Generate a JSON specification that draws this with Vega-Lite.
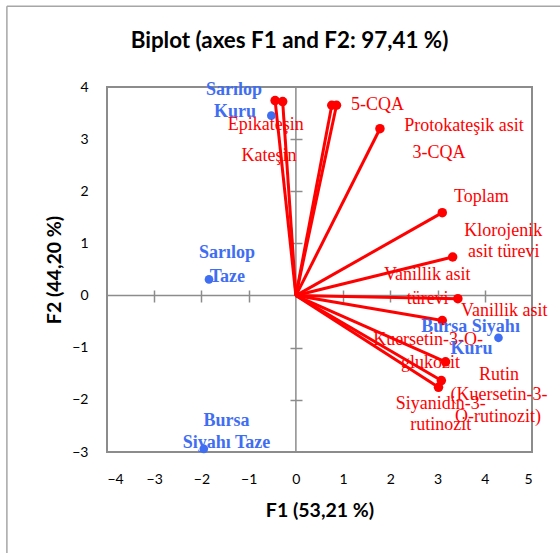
{
  "$schema": "https://vega.github.io/schema/vega-lite/v6.json",
  "width": 425,
  "height": 365,
  "autosize": {"type": "none"},
  "padding": {"left": 107, "top": 87, "right": 28, "bottom": 101},
  "background": "white",
  "config": {"view": {"stroke": "#8c8c8c", "strokeWidth": 2}},
  "title": {
    "text": "Biplot (axes F1 and F2: 97,41 %)",
    "font": "Lato", "fontSize": 22.4, "fontWeight": "bold", "color": "black",
    "anchor": "middle", "frame": "group", "dx": -30, "offset": -65, "baseline": "alphabetic"
  },
  "datasets": {
    "vars": [
      {"name": "Epikateşin", "x": -0.44, "y": 3.74, "o": 0},
      {"name": "Kateşin", "x": -0.28, "y": 3.72, "o": 0},
      {"name": "5-CQA", "x": 0.76, "y": 3.65, "o": 0},
      {"name": "3-CQA", "x": 0.86, "y": 3.65, "o": 0},
      {"name": "Protokateşik asit", "x": 1.78, "y": 3.2, "o": 0},
      {"name": "Toplam", "x": 3.1, "y": 1.59, "o": 0},
      {"name": "Klorojenik asit türevi", "x": 3.32, "y": 0.74, "o": 0},
      {"name": "Vanillik asit", "x": 3.43, "y": -0.06, "o": 0},
      {"name": "Vanillik asit türevi", "x": 3.1, "y": -0.48, "o": 0},
      {"name": "Kuersetin-3-O-glukozit", "x": 3.17, "y": -1.27, "o": 0},
      {"name": "Rutin (Kuersetin-3-O-rutinozit)", "x": 3.08, "y": -1.63, "o": 0},
      {"name": "Siyanidin-3-rutinozit", "x": 3.02, "y": -1.76, "o": 0}
    ],
    "obs": [
      {"name": "Sarılop Kuru", "x": -0.52, "y": 3.45},
      {"name": "Sarılop Taze", "x": -1.84, "y": 0.31},
      {"name": "Bursa Siyahı Taze", "x": -1.95, "y": -2.94},
      {"name": "Bursa Siyahı Kuru", "x": 4.29, "y": -0.81}
    ],
    "zerolines": [
      {"x": -4, "x2": 5, "y": 0, "y2": 0, "kind": "h"},
      {"x": 0, "x2": 0, "y": -3, "y2": 4, "kind": "v"}
    ],
    "frame": [
      {"x": -6.12, "x2": -6.12, "y": 5.55, "y2": -5.3},
      {"x": -6.12, "x2": 6.2, "y": 5.55, "y2": 5.55}
    ],
    "labels": [
      {"text": "5-CQA", "x": 1.73, "y": 3.65, "kind": "var"},
      {"text": "Epikateşin", "x": -0.64, "y": 3.28, "kind": "var"},
      {"text": "Kateşin", "x": -0.57, "y": 2.67, "kind": "var"},
      {"text": "Protokateşik asit", "x": 3.56, "y": 3.26, "kind": "var"},
      {"text": "3-CQA", "x": 3.03, "y": 2.73, "kind": "var"},
      {"text": "Toplam", "x": 3.93, "y": 1.89, "kind": "var"},
      {"text": "Klorojenik", "x": 4.39, "y": 1.23, "kind": "var"},
      {"text": "asit türevi", "x": 4.4, "y": 0.83, "kind": "var"},
      {"text": "Vanillik asit", "x": 2.78, "y": 0.4, "kind": "var"},
      {"text": "türevi", "x": 2.79, "y": -0.06, "kind": "var"},
      {"text": "Vanillik asit", "x": 4.41, "y": -0.3, "kind": "var"},
      {"text": "Kuersetin-3-O-", "x": 2.8, "y": -0.86, "kind": "var"},
      {"text": "glukozit", "x": 2.85, "y": -1.29, "kind": "var"},
      {"text": "Rutin", "x": 4.3, "y": -1.52, "kind": "var"},
      {"text": "(Kuersetin-3-", "x": 4.3, "y": -1.91, "kind": "var"},
      {"text": "O-rutinozit)", "x": 4.28, "y": -2.32, "kind": "var"},
      {"text": "Siyanidin-3-", "x": 3.07, "y": -2.08, "kind": "var"},
      {"text": "rutinozit", "x": 3.07, "y": -2.49, "kind": "var"},
      {"text": "Sarılop", "x": -1.31, "y": 3.95, "kind": "obs"},
      {"text": "Kuru", "x": -1.29, "y": 3.53, "kind": "obs"},
      {"text": "Sarılop", "x": -1.46, "y": 0.81, "kind": "obs"},
      {"text": "Taze", "x": -1.45, "y": 0.36, "kind": "obs"},
      {"text": "Bursa", "x": -1.47, "y": -2.41, "kind": "obs"},
      {"text": "Siyahı Taze", "x": -1.47, "y": -2.82, "kind": "obs"},
      {"text": "Bursa Siyahı", "x": 3.7, "y": -0.61, "kind": "obs"},
      {"text": "Kuru", "x": 3.72, "y": -1.02, "kind": "obs"}
    ]
  },
  "resolve": {"axis": {"x": "independent", "y": "independent"}},
  "layer": [
    {
      "data": {"name": "frame"},
      "mark": {"type": "rule", "color": "#a6a6a6", "strokeWidth": 1.5},
      "encoding": {
        "x": {"field": "x", "type": "quantitative", "scale": {"domain": [-4, 5], "nice": false, "zero": false}, "axis": null},
        "x2": {"field": "x2"},
        "y": {"field": "y", "type": "quantitative", "scale": {"domain": [-3, 4], "nice": false, "zero": false}, "axis": null},
        "y2": {"field": "y2"}
      }
    },
    {
      "data": {"name": "zerolines"},
      "transform": [{"filter": "datum.kind === 'h'"}],
      "mark": {"type": "rule", "color": "#8c8c8c", "strokeWidth": 1.5},
      "encoding": {
        "x": {"field": "x", "type": "quantitative",
          "axis": {"orient": "bottom", "offset": -162, "domain": false, "labels": false, "ticks": true, "tickSize": 12, "tickWidth": 1.5, "tickColor": "#8c8c8c", "values": [-3, -2, -1, 1, 2, 3, 4], "grid": false, "title": null}},
        "x2": {"field": "x2"},
        "y": {"field": "y", "type": "quantitative", "axis": null},
        "y2": {"field": "y2"}
      }
    },
    {
      "data": {"name": "zerolines"},
      "transform": [{"filter": "datum.kind === 'v'"}],
      "mark": {"type": "rule", "color": "#8c8c8c", "strokeWidth": 1.5},
      "encoding": {
        "y": {"field": "y", "type": "quantitative",
          "axis": {"orient": "left", "offset": -195, "domain": false, "labels": false, "ticks": true, "tickSize": 12, "tickWidth": 1.5, "tickColor": "#8c8c8c", "values": [-2, -1, 1, 2, 3], "grid": false, "title": null}},
        "y2": {"field": "y2"},
        "x": {"field": "x", "type": "quantitative", "axis": null},
        "x2": {"field": "x2"}
      }
    },
    {
      "data": {"name": "vars"},
      "mark": {"type": "rule", "color": "#ff0000", "strokeWidth": 3},
      "encoding": {
        "x": {"field": "x", "type": "quantitative", "axis": null},
        "y": {"field": "y", "type": "quantitative", "axis": null},
        "x2": {"field": "o"},
        "y2": {"field": "o"}
      }
    },
    {
      "data": {"name": "vars"},
      "mark": {"type": "point", "filled": true, "color": "#ff0000", "opacity": 1, "size": 90},
      "encoding": {
        "x": {"field": "x", "type": "quantitative", "axis": null},
        "y": {"field": "y", "type": "quantitative", "axis": null}
      }
    },
    {
      "data": {"name": "obs"},
      "mark": {"type": "point", "filled": true, "color": "#3f6ef2", "opacity": 1, "size": 75},
      "encoding": {
        "x": {"field": "x", "type": "quantitative",
          "axis": {"orient": "bottom", "domain": false, "ticks": false, "tickSize": 0, "grid": false, "values": [-4, -3, -2, -1, 0, 1, 2, 3, 4, 5], "labelFont": "Lato", "labelFontSize": 14, "labelColor": "black", "labelPadding": 20, "title": "F1 (53,21 %)", "titleFont": "Lato", "titleFontSize": 19.5, "titleFontWeight": "bold", "titleColor": "black", "titlePadding": 15}},
        "y": {"field": "y", "type": "quantitative",
          "axis": {"orient": "left", "domain": false, "ticks": false, "tickSize": 0, "grid": false, "values": [-3, -2, -1, 0, 1, 2, 3, 4], "labelFont": "Lato", "labelFontSize": 14, "labelColor": "black", "labelPadding": 19, "title": "F2 (44,20 %)", "titleFont": "Lato", "titleFontSize": 19.5, "titleFontWeight": "bold", "titleColor": "black", "titlePadding": 7}}
      }
    },
    {
      "data": {"name": "labels"},
      "transform": [{"filter": "datum.kind === 'var'"}],
      "mark": {"type": "text", "font": "Liberation Serif", "fontSize": 18, "color": "#ff0000", "align": "center", "baseline": "middle"},
      "encoding": {
        "x": {"field": "x", "type": "quantitative", "axis": null},
        "y": {"field": "y", "type": "quantitative", "axis": null},
        "text": {"field": "text"}
      }
    },
    {
      "data": {"name": "labels"},
      "transform": [{"filter": "datum.kind === 'obs'"}],
      "mark": {"type": "text", "font": "Liberation Serif", "fontSize": 18, "fontWeight": "bold", "color": "#3f6ef2", "align": "center", "baseline": "middle"},
      "encoding": {
        "x": {"field": "x", "type": "quantitative", "axis": null},
        "y": {"field": "y", "type": "quantitative", "axis": null},
        "text": {"field": "text"}
      }
    }
  ]
}
